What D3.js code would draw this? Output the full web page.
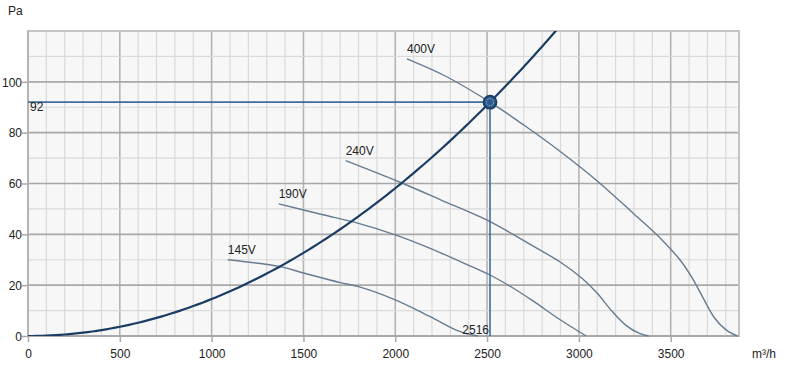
<!DOCTYPE html>
<html>
<head>
<meta charset="utf-8">
<script src="https://cdn.jsdelivr.net/npm/d3@7"></script>
<style>
  body { margin: 0; background: #fff; }
  svg text { font-family: "Liberation Sans", Arial, sans-serif; font-size: 12px; fill: #222; }
</style>
</head>
<body>
<div id="chart"></div>
<script>
// fan curves  [m3/h, Pa]
var curve145 = [[1088,30],[1373,27.3],[1500,24.8],[1700,21],[1800,19.4],[2000,14.2],[2190,7.6],[2350,1.8],[2450,0]];
var curve190 = [[1365,52],[1600,47.8],[1800,44.3],[2000,39.8],[2200,34.2],[2400,27.8],[2516,24],[2650,18.5],[2750,13.8],[2900,6.3],[3040,0]];
var curve240 = [[1730,69],[2026,60.5],[2250,53.5],[2516,45],[2700,37.5],[2900,29],[3020,22.5],[3100,16.8],[3180,9.8],[3260,4],[3330,1],[3380,0]];
var curve400 = [[2064,109],[2280,102],[2516,92],[2700,83],[2900,72.5],[3100,61],[3300,48],[3450,38],[3550,30],[3620,22.5],[3680,14.5],[3740,7],[3800,2.5],[3862,0]];
var fanNames = ["145V","190V","240V","400V"];
var fanCurves = [curve145, curve190, curve240, curve400];
var opFlow = 2516, opPress = 92;
var xTicks = [0,500,1000,1500,2000,2500,3000,3500];
var yTicks = [0,20,40,60,80,100];

var width = 787, height = 369;
var margin = {left: 28, right: 48, top: 31, bottom: 33};
var xMax = 3872, yMax = 120;

var svg = d3.select("#chart").append("svg").attr("width", width).attr("height", height);
var x = d3.scaleLinear().domain([0, xMax]).range([margin.left, width - margin.right]);
var y = d3.scaleLinear().domain([0, yMax]).range([height - margin.bottom, margin.top]);

// plot background
svg.append("rect")
  .attr("x", x(0)).attr("y", y(yMax))
  .attr("width", x(xMax) - x(0)).attr("height", y(0) - y(yMax))
  .attr("fill", "#f7f7f7");

// grid, minor every 100 / 10, major every 500 / 20
var g = svg.append("g");
g.selectAll("line.vx").data(d3.range(100, xMax, 100)).enter().append("line")
  .attr("x1", d => x(d)).attr("x2", d => x(d)).attr("y1", y(0)).attr("y2", y(yMax))
  .attr("stroke", d => d % 500 == 0 ? "#b4b4b4" : "#dadada").attr("stroke-width", d => d % 500 == 0 ? 1.6 : 1.2);
g.selectAll("line.hy").data(d3.range(10, yMax, 10)).enter().append("line")
  .attr("x1", x(0)).attr("x2", x(xMax)).attr("y1", d => y(d)).attr("y2", d => y(d))
  .attr("stroke", d => d % 20 == 0 ? "#a8a8a8" : "#dadada").attr("stroke-width", d => d % 20 == 0 ? 1.6 : 1.2);

// border
svg.append("rect")
  .attr("x", x(0)).attr("y", y(yMax))
  .attr("width", x(xMax) - x(0)).attr("height", y(0) - y(yMax))
  .attr("fill", "none").attr("stroke", "#c4c4c4").attr("stroke-width", 2);
svg.append("line").attr("x1", x(0)).attr("x2", x(xMax)).attr("y1", y(0)).attr("y2", y(0))
  .attr("stroke", "#a8a8a8").attr("stroke-width", 2);
svg.append("line").attr("x1", x(0)).attr("x2", x(0)).attr("y1", y(0)).attr("y2", y(yMax))
  .attr("stroke", "#b4b4b4").attr("stroke-width", 2);

// axes
var xAxis = svg.append("g").attr("transform", "translate(0," + y(0) + ")")
  .call(d3.axisBottom(x).tickValues(xTicks).tickSize(6).tickFormat(d3.format("d")));
var yAxis = svg.append("g").attr("transform", "translate(" + x(0) + ",0)")
  .call(d3.axisLeft(y).tickValues(yTicks).tickSize(6).tickPadding(1).tickFormat(d3.format("d")));
[xAxis, yAxis].forEach(function(a){
  a.select(".domain").remove();
  a.selectAll(".tick line").attr("stroke", "#a8a8a8").attr("stroke-width", 1.5);
  a.selectAll(".tick text").style("font-size", "12px").attr("fill", "#222");
});
xAxis.selectAll(".tick text").attr("dy", "1.05em");
yAxis.selectAll(".tick text").attr("x", -6).attr("dy", "0.35em");

svg.append("text").attr("x", 8).attr("y", 15).text("Pa");
svg.append("text").attr("x", 752).attr("y", 358).text("m³/h");

// clip for curves
svg.append("clipPath").attr("id", "plotclip").append("rect")
  .attr("x", x(0)).attr("y", y(yMax)).attr("width", x(xMax) - x(0)).attr("height", y(0) - y(yMax));

var line = d3.line().x(d => x(d[0])).y(d => y(d[1])).curve(d3.curveCatmullRom.alpha(0.5));

// fan curves
fanCurves.forEach(function(c, i){
  svg.append("path").datum(c).attr("d", line)
    .attr("fill", "none").attr("stroke", "#667b90").attr("stroke-width", 1.4);
  svg.append("text").attr("x", x(c[0][0])).attr("y", y(c[0][1]) - 6).text(fanNames[i]);
});

// system curve  p = k * q^2 through operating point
var k = opPress / (opFlow * opFlow);
var sys = d3.range(0, 3001, 25).map(q => [q, k * q * q]);
svg.append("path").datum(sys).attr("clip-path", "url(#plotclip)")
  .attr("d", d3.line().x(d => x(d[0])).y(d => y(d[1])))
  .attr("fill", "none").attr("stroke", "#1c3d63").attr("stroke-width", 2.2);

// operating point guides
svg.append("line").attr("x1", x(0)).attr("x2", x(opFlow)).attr("y1", y(opPress)).attr("y2", y(opPress))
  .attr("stroke", "#3f6d9c").attr("stroke-width", 1.6);
svg.append("line").attr("x1", x(opFlow)).attr("x2", x(opFlow)).attr("y1", y(opPress)).attr("y2", y(0))
  .attr("stroke", "#3f6d9c").attr("stroke-width", 1.6);
svg.append("text").attr("x", x(0) + 2).attr("y", y(opPress) + 9).text(opPress);
svg.append("text").attr("x", x(opFlow) - 1).attr("y", y(0) - 2).attr("text-anchor", "end").text(opFlow);

svg.append("circle").attr("cx", x(opFlow)).attr("cy", y(opPress)).attr("r", 6.5)
  .attr("fill", "#2a5a8e").attr("stroke", "#1c3d63").attr("stroke-width", 1.8);
svg.append("circle").attr("cx", x(opFlow)).attr("cy", y(opPress)).attr("r", 3.6)
  .attr("fill", "#2a5a8e").attr("stroke", "#9fbbd8").attr("stroke-width", 1).attr("stroke-dasharray", "1.5,1.2");
</script>
</body>
</html>
